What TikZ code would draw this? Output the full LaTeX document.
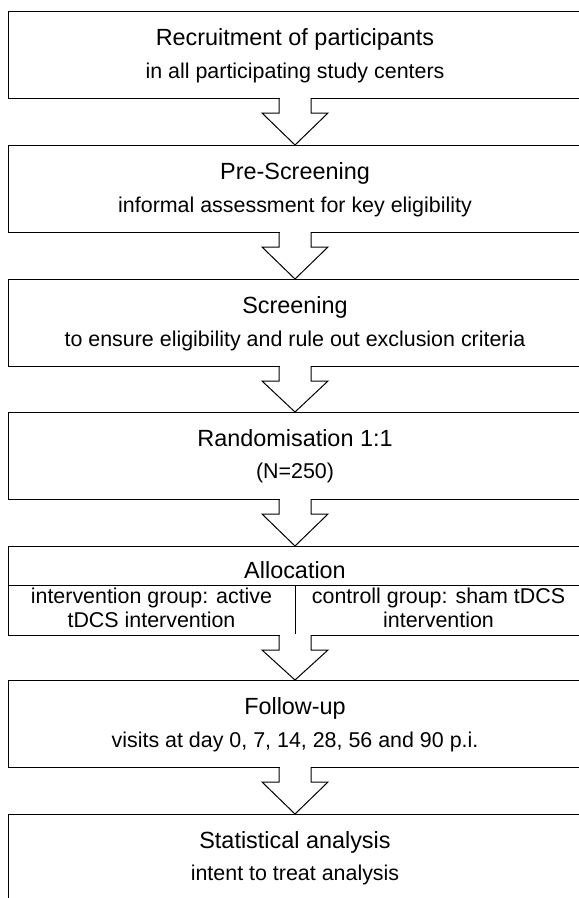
\documentclass[tikz,border=0pt]{standalone}
\usepackage{fontspec}
\setmainfont{Liberation Sans}
\usetikzlibrary{calc}
\begin{document}
\begin{tikzpicture}[x=1bp,y=-1bp,
  stage/.style={draw, line width=1bp, minimum width=574bp, minimum height=87bp,
    inner sep=0pt, outer sep=0pt, anchor=north west},
  headline/.style={anchor=base, inner sep=0pt, font=\fontsize{23.5}{27}\selectfont},
  subline/.style={anchor=base, inner sep=0pt, font=\fontsize{21.5}{25}\selectfont},
  cell/.style={anchor=base, inner sep=0pt, align=center, font=\fontsize{21.5}{24}\selectfont},
  rule/.style={line width=1bp},
  blockarrow/.style={draw, line width=1bp, line join=miter}]

\useasboundingbox (0,0) rectangle (579,898);

% stage boxes (they run on past the right edge of the page)
\node[stage] (recruit)   at (8,11)  {};
\node[stage] (prescreen) at (8,145) {};
\node[stage] (screen)    at (8,279) {};
\node[stage] (random)    at (8,412) {};
\node[stage, minimum height=89bp] (alloc) at (8,546) {};
\node[stage] (followup)  at (8,680) {};
\node[stage, minimum height=110bp] (stats) at (8,814) {};

% titles and descriptions
\node[headline] (recruitT) at ($(recruit.north)+(0,34)$) {Recruitment of participants};
\node[subline]  (recruitS) at ($(recruit.north)+(0,67)$) {in all participating study centers};

\node[headline] (prescreenT) at ($(prescreen.north)+(0,34)$) {Pre-Screening};
\node[subline]  (prescreenS) at ($(prescreen.north)+(0,67)$) {informal assessment for key eligibility};

\node[headline] (screenT) at ($(screen.north)+(0,34)$) {Screening};
\node[subline]  (screenS) at ($(screen.north)+(0,67)$) {to ensure eligibility and rule out exclusion criteria};

\node[headline] (randomT) at ($(random.north)+(0,34)$) {Randomisation 1:1};
\node[subline]  (randomS) at ($(random.north)+(0,66)$) {(N=250)};

% allocation box with its two arms
\draw[rule] ($(alloc.north west)+(0,39)$) -- ($(alloc.north east)+(0,39)$);
\draw[rule] ($(alloc.north)+(0,39)$) -- (alloc.south);
\node[headline] (allocT) at ($(alloc.north)+(0,32)$) {Allocation};
\node[cell] (armActive) at (151.5,627) {intervention group: active\\tDCS intervention};
\node[cell] (armSham)   at (438.5,627) {controll group: sham tDCS\\intervention};

\node[headline] (followupT) at ($(followup.north)+(0,34)$) {Follow-up};
\node[subline]  (followupS) at ($(followup.north)+(0,67)$) {visits at day 0, 7, 14, 28, 56 and 90 p.i.};

\node[headline] (statsT) at ($(stats.north)+(0,34)$) {Statistical analysis};
\node[subline]  (statsS) at ($(stats.north)+(0,66)$) {intent to treat analysis};

% open block arrows from each box to the next
\foreach \a/\b in {recruit/prescreen, prescreen/screen, screen/random,
                   random/alloc, alloc/followup, followup/stats} {
  \fill[white] ($(\a.south)+(-15.5,-1.5)$) rectangle ($(\a.south)+(15.5,1)$);
  \draw[blockarrow] ($(\a.south)+(-16,0)$) -- ++(0,15) -- ++(-17,0)
    -- (\b.north) -- ($(\a.south)+(33,15)$) -- ++(-17,0) -- ++(0,-15);
}
\end{tikzpicture}
\end{document}
